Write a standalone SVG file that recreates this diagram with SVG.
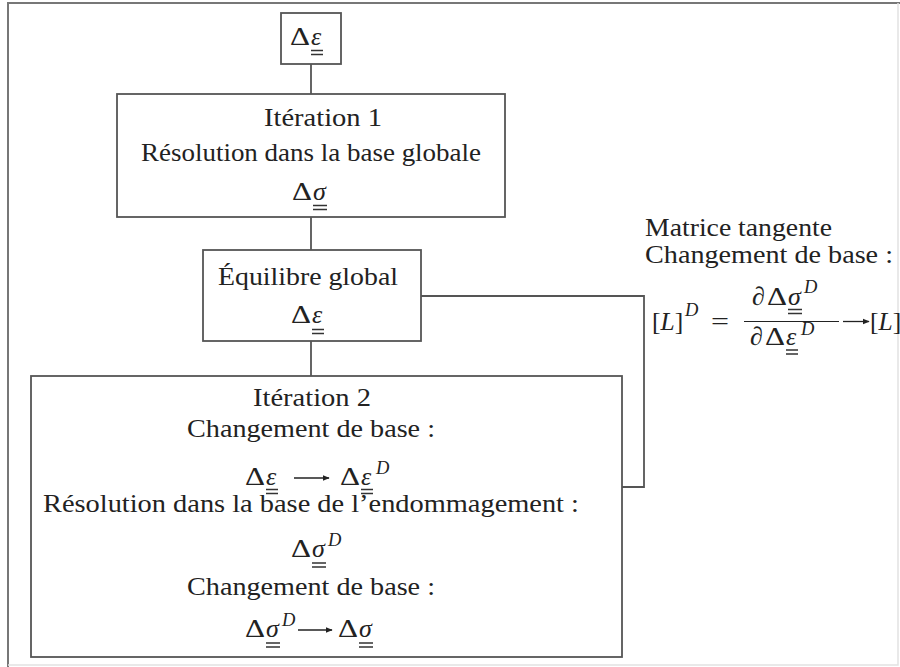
<svg xmlns="http://www.w3.org/2000/svg" width="900" height="667" viewBox="0 0 900 667">
<defs>
<marker id="ah" viewBox="0 0 10 10" refX="9" refY="5" markerWidth="7" markerHeight="7" orient="auto" markerUnits="userSpaceOnUse">
<path d="M0 1 L10 5 L0 9 Z" fill="#222"/>
</marker>
<style>
.t{font-family:"Liberation Serif","DejaVu Serif",serif;font-size:25.5px;fill:#222}
.c{text-anchor:middle}
.d{font-family:"Liberation Serif","DejaVu Serif",serif;font-size:26px;fill:#222}
.i{font-family:"Liberation Serif","DejaVu Serif",serif;font-size:26px;font-style:italic;fill:#222}
.s{font-family:"Liberation Serif","DejaVu Serif",serif;font-size:18.5px;font-style:italic;fill:#222}
.ul{stroke:#333;stroke-width:1.3;fill:none}
.box{fill:none;stroke:#555;stroke-width:1.8}
.conn{fill:none;stroke:#555;stroke-width:1.8}
.ar{stroke:#222;stroke-width:1.3;fill:none;marker-end:url(#ah)}
</style>
</defs>
<rect width="900" height="667" fill="#fff"/>
<path d="M8 667V3H900" stroke="#777" stroke-width="2" fill="none"/>
<path d="M898 3V665H8" stroke="#e2e2e2" stroke-width="1.5" fill="none"/>

<g id="connectors">
<path class="conn" d="M311 64V94"/>
<path class="conn" d="M311 217V250"/>
<path class="conn" d="M311 341V376"/>
<path class="conn" d="M421 296H644V487H622"/>
</g>

<g id="n-delta-eps">
<rect class="box" x="281" y="13" width="60" height="51"/>
<text class="d" x="290" y="45" textLength="20" lengthAdjust="spacingAndGlyphs">Δ</text>
<text class="i" x="311" y="45">ε</text>
<path class="ul" d="M311 50.5h12M311 54.5h12"/>
</g>

<g id="n-iteration1">
<rect class="box" x="117" y="94" width="388" height="123"/>
<text class="t c" x="323" y="126" textLength="118" lengthAdjust="spacingAndGlyphs">Itération 1</text>
<text class="t c" x="311" y="161" textLength="340" lengthAdjust="spacingAndGlyphs">Résolution dans la base globale</text>
<text class="d" x="292" y="200" textLength="20" lengthAdjust="spacingAndGlyphs">Δ</text>
<text class="i" x="313" y="200">σ</text>
<path class="ul" d="M313 205.5h14M313 209.5h14"/>
</g>

<g id="n-equilibre">
<rect class="box" x="203" y="250" width="218" height="91"/>
<text class="t c" x="308" y="285" textLength="180" lengthAdjust="spacingAndGlyphs">Équilibre global</text>
<text class="d" x="291" y="323" textLength="20" lengthAdjust="spacingAndGlyphs">Δ</text>
<text class="i" x="312" y="323">ε</text>
<path class="ul" d="M312 329.5h12M312 333.5h12"/>
</g>

<g id="n-iteration2">
<rect class="box" x="31" y="376" width="591" height="281"/>
<text class="t c" x="312" y="406" textLength="118" lengthAdjust="spacingAndGlyphs">Itération 2</text>
<text class="t c" x="311" y="437" textLength="248" lengthAdjust="spacingAndGlyphs">Changement de base :</text>
<text class="d" x="245" y="485" textLength="20" lengthAdjust="spacingAndGlyphs">Δ</text>
<text class="i" x="266" y="485">ε</text>
<path class="ul" d="M266 489.5h12M266 493.5h12"/>
<path class="ar" d="M294 478H329"/>
<text class="d" x="340" y="485" textLength="20" lengthAdjust="spacingAndGlyphs">Δ</text>
<text class="i" x="361" y="485">ε</text>
<path class="ul" d="M361 489.5h12M361 493.5h12"/>
<text class="s" x="376" y="474">D</text>
<text class="t c" x="311" y="512" textLength="536" lengthAdjust="spacingAndGlyphs">Résolution dans la base de l’endommagement :</text>
<text class="d" x="291" y="557" textLength="20" lengthAdjust="spacingAndGlyphs">Δ</text>
<text class="i" x="312" y="557">σ</text>
<path class="ul" d="M312 563h14M312 567h14"/>
<text class="s" x="328" y="546">D</text>
<text class="t c" x="311" y="595" textLength="248" lengthAdjust="spacingAndGlyphs">Changement de base :</text>
<text class="d" x="245" y="637" textLength="20" lengthAdjust="spacingAndGlyphs">Δ</text>
<text class="i" x="266" y="637">σ</text>
<path class="ul" d="M266 643h14M266 647h14"/>
<text class="s" x="282" y="626">D</text>
<path class="ar" d="M298 630H332"/>
<text class="d" x="338" y="637" textLength="20" lengthAdjust="spacingAndGlyphs">Δ</text>
<text class="i" x="359" y="637">σ</text>
<path class="ul" d="M359 643h14M359 647h14"/>
</g>

<g id="annotation">
<text class="t" x="645" y="236" textLength="187" lengthAdjust="spacingAndGlyphs">Matrice tangente</text>
<text class="t" x="645" y="263" textLength="248" lengthAdjust="spacingAndGlyphs">Changement de base :</text>
<text class="t" x="652" y="330">[<tspan font-style="italic">L</tspan>]</text>
<text class="s" x="685" y="316">D</text>
<text class="t" x="711" y="330" textLength="18" lengthAdjust="spacingAndGlyphs">=</text>
<path d="M744 321.5H839" stroke="#222" stroke-width="1.2"/>
<text class="i" x="752" y="305">∂</text>
<text class="d" x="767" y="305" textLength="20" lengthAdjust="spacingAndGlyphs">Δ</text>
<text class="i" x="788" y="305">σ</text>
<path class="ul" d="M788 309.5h14M788 313.5h14"/>
<text class="s" x="804" y="293">D</text>
<text class="i" x="750" y="345">∂</text>
<text class="d" x="765" y="345" textLength="20" lengthAdjust="spacingAndGlyphs">Δ</text>
<text class="i" x="786" y="345">ε</text>
<path class="ul" d="M786 350h12M786 354h12"/>
<text class="s" x="801" y="335">D</text>
<path class="ar" d="M843 321.5H869"/>
<text class="t" x="870" y="330">[<tspan font-style="italic">L</tspan>]</text>
</g>
</svg>
